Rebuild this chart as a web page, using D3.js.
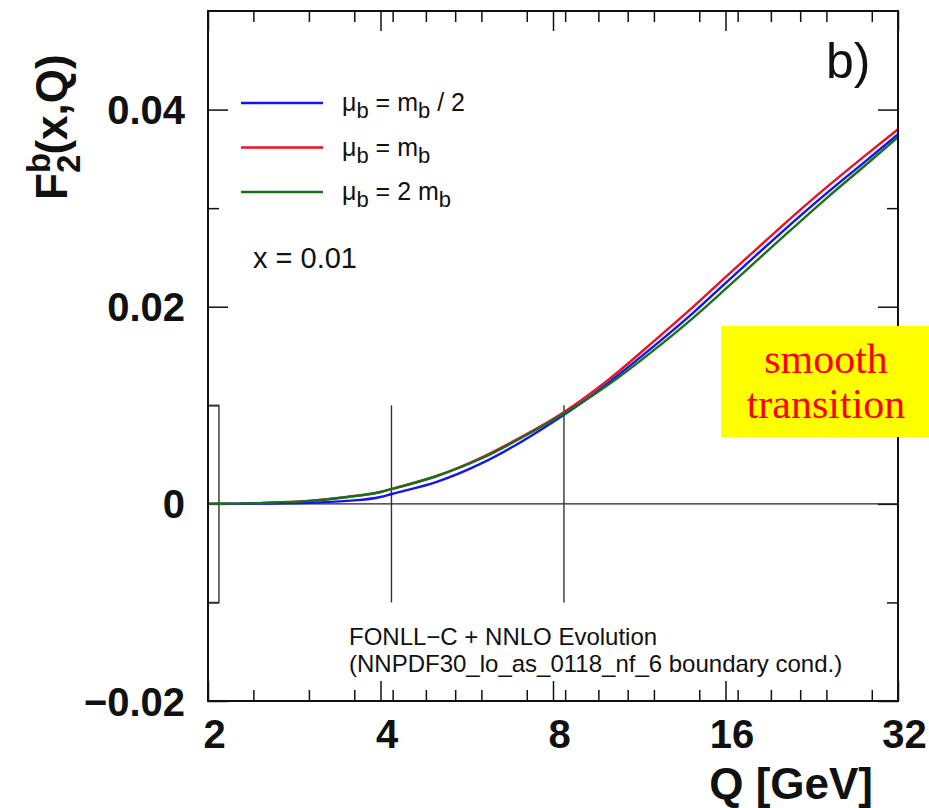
<!DOCTYPE html>
<html>
<head>
<meta charset="utf-8">
<script src="https://cdn.jsdelivr.net/npm/d3@7"></script>
<style>
body { margin: 0; background: #fff; }
svg { display: block; font-family: "Liberation Sans", Arial, sans-serif; }
</style>
</head>
<body>
<svg width="929" height="808"></svg>
<script>
// Q values (GeV) and F2b(x=0.01, Q) for the three matching scales
var qValues = [2, 2.09, 2.5, 3, 3.5, 4, 4.18, 5, 6, 7, 8, 9, 10, 12, 14, 16, 18, 20, 24, 28, 32];
var f2bHalf = [0, 0, 0.00003, 0.0001, 0.0003, 0.0007, 0.0010, 0.0022, 0.0041, 0.0062, 0.0083, 0.0103, 0.0123, 0.0160, 0.0193, 0.0224, 0.0251, 0.0275, 0.0315, 0.0347, 0.0375];
var f2bNominal = [0, 0.00001, 0.0001, 0.0003, 0.0007, 0.0012, 0.0015, 0.0028, 0.0047, 0.0067, 0.0086, 0.0106, 0.0126, 0.0165, 0.0199, 0.0230, 0.0257, 0.0281, 0.0321, 0.0353, 0.0380];
var f2bDouble = [0, 0.00001, 0.0001, 0.0003, 0.0007, 0.0012, 0.0015, 0.0028, 0.0046, 0.0066, 0.0085, 0.0103, 0.0121, 0.0156, 0.0188, 0.0218, 0.0245, 0.0269, 0.0310, 0.0343, 0.0372];

var xMajorTicks = [2, 4, 8, 16, 32];
var xMinorTicks = [2.4, 3, 3.6, 4.2, 4.8, 5.4, 6, 7.2, 8.4, 9.6, 10.8, 12, 14.4, 16.8, 19.2, 21.6, 24, 28.8];
var yMajorTicks = [-0.02, 0, 0.02, 0.04];
var yMinorTicks = [-0.01, 0.01, 0.03];

// m_b/2, m_b, 2 m_b
var matchingQ = [2.09, 4.18, 8.36];

var legendItems = [
	{ name: "half", color: "#1414f0", parts: [["\u03bc", 0], ["b", 1], [" = m", 0], ["b", 1], [" / 2", 0]] },
	{ name: "nominal", color: "#ec1020", parts: [["\u03bc", 0], ["b", 1], [" = m", 0], ["b", 1]] },
	{ name: "double", color: "#16701c", parts: [["\u03bc", 0], ["b", 1], [" = 2 m", 0], ["b", 1]] }
];

var series = {
	half: f2bHalf,
	nominal: f2bNominal,
	double: f2bDouble
};

var plotLeft = 208, plotRight = 898, plotTop = 11, plotBottom = 701;

var svg = d3.select("svg");

var x = d3.scaleLog().base(2).domain([2, 32]).range([plotLeft, plotRight]);
var y = d3.scaleLinear().domain([-0.02, 0.05]).range([plotBottom, plotTop]);

// axes with inward ticks
function tickFmt(d) {
	return d === 0 ? "0" : d3.format(".2f")(d);
}

var xAxis = svg.append("g")
	.attr("transform", "translate(0," + plotBottom + ")")
	.call(d3.axisBottom(x).tickValues(xMajorTicks).tickSize(-20).tickPadding(0).tickFormat(d3.format("d")));
xAxis.selectAll("text")
	.attr("x", 6)
	.attr("y", 47)
	.attr("dy", null)
	.attr("font-size", 40)
	.attr("font-weight", "bold")
	.attr("font-family", "Liberation Sans, Arial, sans-serif");

svg.append("g")
	.attr("transform", "translate(0," + plotBottom + ")")
	.call(d3.axisBottom(x).tickValues(xMinorTicks).tickSize(-11).tickFormat(""));
svg.append("g")
	.attr("transform", "translate(0," + plotTop + ")")
	.call(d3.axisTop(x).tickValues(xMajorTicks).tickSize(-20).tickFormat(""));
svg.append("g")
	.attr("transform", "translate(0," + plotTop + ")")
	.call(d3.axisTop(x).tickValues(xMinorTicks).tickSize(-11).tickFormat(""));

var yAxis = svg.append("g")
	.attr("transform", "translate(" + plotLeft + ",0)")
	.call(d3.axisLeft(y).tickValues(yMajorTicks).tickSize(-20).tickPadding(23).tickFormat(tickFmt));
yAxis.selectAll("text")
	.attr("dy", 14)
	.attr("font-size", 40)
	.attr("font-weight", "bold")
	.attr("font-family", "Liberation Sans, Arial, sans-serif");

svg.append("g")
	.attr("transform", "translate(" + plotLeft + ",0)")
	.call(d3.axisLeft(y).tickValues(yMinorTicks).tickSize(-11).tickFormat(""));
svg.append("g")
	.attr("transform", "translate(" + plotRight + ",0)")
	.call(d3.axisRight(y).tickValues(yMajorTicks).tickSize(-20).tickFormat(""));
svg.append("g")
	.attr("transform", "translate(" + plotRight + ",0)")
	.call(d3.axisRight(y).tickValues(yMinorTicks).tickSize(-11).tickFormat(""));

svg.selectAll(".domain").remove();
svg.selectAll(".tick line").attr("stroke", "#111").attr("stroke-width", 1.5);
svg.selectAll(".tick text").attr("fill", "#111");

// zero line
svg.append("line")
	.attr("x1", plotLeft)
	.attr("x2", plotRight)
	.attr("y1", y(0))
	.attr("y2", y(0))
	.attr("stroke", "#222")
	.attr("stroke-width", 1.3);

// matching scale markers
svg.append("rect")
	.attr("x", x(2))
	.attr("y", y(0.01))
	.attr("width", x(matchingQ[0]) - x(2))
	.attr("height", y(-0.01) - y(0.01))
	.attr("fill", "none")
	.attr("stroke", "#333")
	.attr("stroke-width", 1.4);

svg.selectAll(".marker")
	.data(matchingQ.slice(1))
	.enter()
	.append("line")
	.attr("class", "marker")
	.attr("x1", d => x(d))
	.attr("x2", d => x(d))
	.attr("y1", y(0.01))
	.attr("y2", y(-0.01))
	.attr("stroke", "#333")
	.attr("stroke-width", 1.4);

// curves: red first, then blue, then green on top
var line = d3.line()
	.x((d, i) => x(qValues[i]))
	.y(d => y(d))
	.curve(d3.curveMonotoneX);

["nominal", "half", "double"].forEach(function(key) {
	var item = legendItems.find(l => l.name === key);
	svg.append("path")
		.datum(series[key])
		.attr("d", line)
		.attr("fill", "none")
		.attr("stroke", item.color)
		.attr("stroke-width", 2.4);
});

// frame
svg.append("rect")
	.attr("x", plotLeft)
	.attr("y", plotTop)
	.attr("width", plotRight - plotLeft)
	.attr("height", plotBottom - plotTop)
	.attr("fill", "none")
	.attr("stroke", "#111")
	.attr("stroke-width", 2);

// legend
function writeParts(textSel, parts, subSize, shift) {
	var down = false;
	parts.forEach(function(p) {
		var t = textSel.append("tspan").text(p[0]);
		if (p[1] && !down) {
			t.attr("dy", shift).attr("font-size", subSize);
			down = true;
		} else if (!p[1] && down) {
			t.attr("dy", -shift);
			down = false;
		}
	});
}

var legend = svg.append("g").attr("class", "legend");
legendItems.forEach(function(item, i) {
	var ly = 103 + i * 44.5;
	legend.append("line")
		.attr("x1", 241)
		.attr("x2", 323)
		.attr("y1", ly)
		.attr("y2", ly)
		.attr("stroke", item.color)
		.attr("stroke-width", 2.4);
	var t = legend.append("text")
		.attr("x", 342)
		.attr("y", ly + 8)
		.attr("font-size", 25)
		.attr("fill", "#111");
	writeParts(t, item.parts, 22, 7);
});

svg.append("text")
	.attr("x", 253)
	.attr("y", 268)
	.attr("font-size", 29)
	.attr("fill", "#111")
	.text("x = 0.01");

svg.append("text")
	.attr("x", 826)
	.attr("y", 78)
	.attr("font-size", 50)
	.attr("fill", "#111")
	.text("b)");

svg.append("text")
	.attr("x", 349)
	.attr("y", 645)
	.attr("font-size", 24)
	.attr("fill", "#111")
	.text("FONLL\u2212C + NNLO Evolution");

svg.append("text")
	.attr("x", 349)
	.attr("y", 672)
	.attr("font-size", 24)
	.attr("fill", "#111")
	.text("(NNPDF30_lo_as_0118_nf_6 boundary cond.)");

// axis titles
svg.append("text")
	.attr("x", 873)
	.attr("y", 799)
	.attr("text-anchor", "end")
	.attr("font-size", 44)
	.attr("font-weight", "bold")
	.attr("fill", "#111")
	.text("Q [GeV]");

var yTitle = svg.append("text")
	.attr("transform", "translate(67,200) rotate(-90)")
	.attr("font-size", 44)
	.attr("font-weight", "bold")
	.attr("fill", "#111");
yTitle.append("tspan").text("F");
yTitle.append("tspan").attr("font-size", 33).attr("dy", -17).text("b");
yTitle.append("tspan").attr("font-size", 33).attr("dx", -20).attr("dy", 30).text("2");
yTitle.append("tspan").attr("dy", -13).text("(x,Q)");

// annotation box
svg.append("rect")
	.attr("x", 721)
	.attr("y", 326)
	.attr("width", 208)
	.attr("height", 111)
	.attr("fill", "#ffff00");

svg.selectAll(".note")
	.data(["smooth", "transition"])
	.enter()
	.append("text")
	.attr("class", "note")
	.attr("x", 826)
	.attr("y", (d, i) => 373 + i * 45)
	.attr("text-anchor", "middle")
	.attr("font-family", "Liberation Serif, Times New Roman, serif")
	.attr("font-size", 42)
	.attr("fill", "#ff0000")
	.text(d => d);
</script>
</body>
</html>
